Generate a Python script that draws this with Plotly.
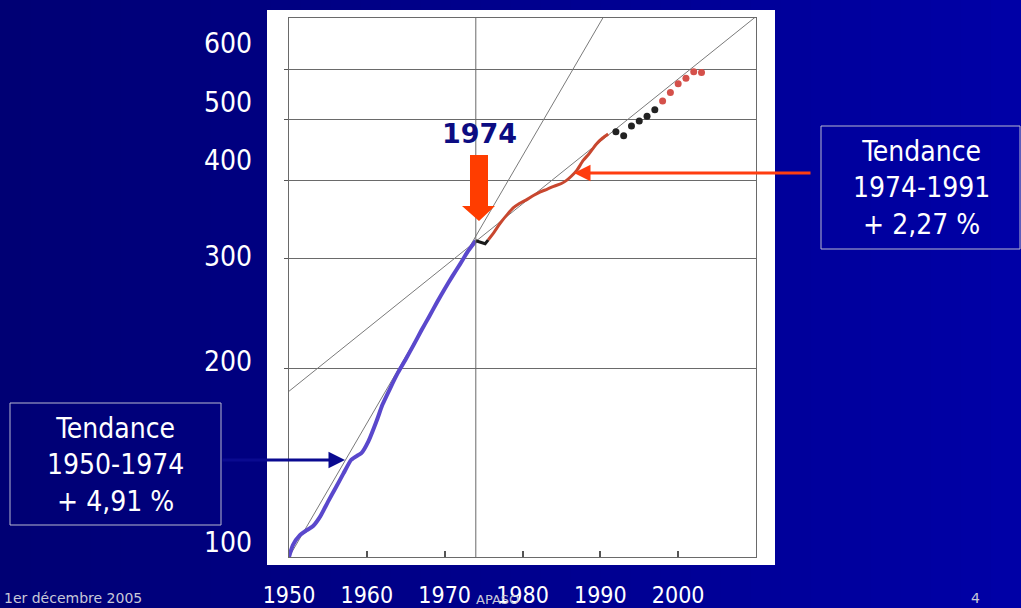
import plotly.graph_objects as go

# ---------------- data (index, 1950 = 100) ----------------
blue_years = [1950, 1950.5, 1951.4, 1952.3, 1953.1, 1954, 1955, 1956, 1957, 1958,
              1958.9, 1959.3, 1960.2, 1961.3, 1962, 1963, 1964, 1965, 1966, 1967,
              1968, 1969, 1970, 1971, 1972, 1973, 1974]
blue_vals = [100, 104.5, 108.4, 110.4, 112.1, 116, 122.5, 129, 136, 143,
             145.5, 146.5, 153, 165.5, 175, 186, 197, 207, 218, 230,
             242, 255, 268, 281, 294, 308, 320]

hook_years = [1974, 1975.2, 1975.6]
hook_vals = [320, 316.5, 321]

red_years = [1975.6, 1976.4, 1977.1, 1978, 1978.8, 1979.6, 1980.5, 1981.4, 1982.3,
             1983.2, 1984, 1985, 1985.7, 1986.3, 1987, 1987.8, 1988.5, 1989.5,
             1990.3, 1991]
red_vals = [321, 331, 341, 352, 361, 367, 372, 378, 383,
            387, 391, 395, 400, 406, 415, 430, 440, 457,
            467, 474]

black_dot_years = [1992, 1993, 1994, 1995, 1996, 1997]
black_dot_vals = [478, 471, 488, 497, 506, 518]
red_dot_years = [1998, 1999, 2000, 2001, 2002, 2003]
red_dot_vals = [535, 552, 570, 582, 596, 594]

trend_fast_years = [1950, 1990.4]   # tendance 1950-1974
trend_fast_vals = [100, 729]
trend_slow_years = [1950, 2010]     # tendance 1974-1991
trend_slow_vals = [184, 730]

x_ticks = [1950, 1960, 1970, 1980, 1990, 2000]
y_grid = [200, 300, 400, 500, 600]
y_labels = ["600", "500", "400", "300", "200", "100"]
marker_year = 1974
marker_label = "1974"
box_left_lines = ["Tendance", "1950-1974", "+ 4,91 %"]
box_right_lines = ["Tendance", "1974-1991", "+ 2,27 %"]
footer_left = "1er décembre 2005"
footer_mid = "APASO"
footer_right = "4"

# ---------------- geometry / style ----------------
W, H = 1021, 608
L, R, T, B = 289, 756, 18, 557
FONT = "DejaVu Sans Condensed, DejaVu Sans, sans-serif"


def px(x):
    return (x - L) / (R - L)


def py(y):
    return (B - y) / (B - T)


fig = go.Figure()

fig.add_trace(go.Scatter(x=trend_slow_years, y=trend_slow_vals, mode="lines",
                         line=dict(color="#7a7a7a", width=1), hoverinfo="skip"))
fig.add_trace(go.Scatter(x=trend_fast_years, y=trend_fast_vals, mode="lines",
                         line=dict(color="#7a7a7a", width=1), hoverinfo="skip"))
fig.add_trace(go.Scatter(x=blue_years, y=blue_vals, mode="lines",
                         line=dict(color="#5a48cc", width=4, shape="spline", smoothing=0.6)))
fig.add_trace(go.Scatter(x=hook_years, y=hook_vals, mode="lines",
                         line=dict(color="#1a1a1a", width=3)))
fig.add_trace(go.Scatter(x=red_years, y=red_vals, mode="lines",
                         line=dict(color="#c8472f", width=3, shape="spline", smoothing=0.6)))
fig.add_trace(go.Scatter(x=black_dot_years, y=black_dot_vals, mode="markers",
                         marker=dict(color="#222222", size=7)))
fig.add_trace(go.Scatter(x=red_dot_years, y=red_dot_vals, mode="markers",
                         marker=dict(color="#d4504a", size=7)))

shapes = []
# gradient slide background (vertical strips)
n = 34
for i in range(n):
    x0 = W * i / n
    x1 = W * (i + 1) / n + 1
    t = i / (n - 1)
    b = int(round(116 + t * (166 - 116)))
    shapes.append(dict(type="rect", xref="paper", yref="paper", layer="below",
                       x0=px(x0), x1=px(x1), y0=py(H + 2), y1=py(-2),
                       fillcolor=f"rgb(0,0,{b})", line=dict(width=0)))
# white card
shapes.append(dict(type="rect", xref="paper", yref="paper", layer="below",
                   x0=px(267), x1=px(775), y0=py(565), y1=py(10),
                   fillcolor="white", line=dict(width=0)))
# 1974 vertical line
shapes.append(dict(type="line", xref="x", yref="paper", x0=marker_year, x1=marker_year,
                   y0=0, y1=1, line=dict(color="#6a6a6a", width=1)))
# text boxes
shapes.append(dict(type="rect", xref="paper", yref="paper",
                   x0=px(10), x1=px(221), y0=py(525), y1=py(403),
                   line=dict(color="#b8b8d0", width=1)))
shapes.append(dict(type="rect", xref="paper", yref="paper",
                   x0=px(821), x1=px(1020), y0=py(249), y1=py(126),
                   line=dict(color="#b8b8d0", width=1)))
# big red arrow pointing at 1974
pts = [(470, 155), (488, 155), (488, 206), (495, 206), (479, 221), (462, 206), (470, 206)]
path = "M " + " L ".join(f"{px(a):.5f},{py(b):.5f}" for a, b in pts) + " Z"
shapes.append(dict(type="path", xref="paper", yref="paper", path=path,
                   fillcolor="#ff3d00", line=dict(width=0)))

annotations = []
# y labels
for txt, yc in zip(y_labels, [44, 102, 160, 256, 361, 542]):
    annotations.append(dict(xref="paper", yref="paper", x=px(254), y=py(yc),
                            xanchor="right", yanchor="middle", text=txt, showarrow=False,
                            font=dict(family=FONT, size=28, color="white")))
# 1974 label
annotations.append(dict(xref="paper", yref="paper", x=px(479), y=py(133),
                        xanchor="center", yanchor="middle", text=marker_label, showarrow=False,
                        font=dict(family="DejaVu Sans, sans-serif", size=27, color="#0c0c82",
                                  weight="bold")))
# box texts
annotations.append(dict(xref="paper", yref="paper", x=px(115), y=py(465),
                        xanchor="center", yanchor="middle", text="<br>".join(box_left_lines),
                        showarrow=False, align="center",
                        font=dict(family=FONT, size=28, color="white")))
annotations.append(dict(xref="paper", yref="paper", x=px(921), y=py(188),
                        xanchor="center", yanchor="middle", text="<br>".join(box_right_lines),
                        showarrow=False, align="center",
                        font=dict(family=FONT, size=28, color="white")))
# arrows
annotations.append(dict(xref="paper", yref="paper", x=px(345), y=py(460), ax=-(345 - 221), ay=0,
                        text="", showarrow=True, arrowhead=2, arrowsize=1.1, arrowwidth=3,
                        arrowcolor="#0a0a90", standoff=0, startstandoff=0))
annotations.append(dict(xref="paper", yref="paper", x=px(574), y=py(173), ax=812 - 574, ay=0,
                        text="", showarrow=True, arrowhead=2, arrowsize=1.1, arrowwidth=3,
                        arrowcolor="#ff3d10", standoff=0, startstandoff=0))
# footer
annotations.append(dict(xref="paper", yref="paper", x=px(2), y=py(598), xanchor="left",
                        yanchor="middle", text=footer_left, showarrow=False,
                        font=dict(family="DejaVu Sans, sans-serif", size=14, color="#c8c8d8")))
annotations.append(dict(xref="paper", yref="paper", x=px(497), y=py(599), xanchor="center",
                        yanchor="middle", text=footer_mid, showarrow=False,
                        font=dict(family="DejaVu Sans, sans-serif", size=13, color="#c8c8d8")))
annotations.append(dict(xref="paper", yref="paper", x=px(975), y=py(598), xanchor="center",
                        yanchor="middle", text=footer_right, showarrow=False,
                        font=dict(family="DejaVu Sans, sans-serif", size=14, color="#c8c8d8")))

fig.update_layout(
    width=W, height=H,
    margin=dict(l=L, r=W - R, t=T, b=H - B, pad=0, autoexpand=False),
    paper_bgcolor="#00007a",
    plot_bgcolor="rgba(0,0,0,0)",
    showlegend=False,
    shapes=shapes,
    annotations=annotations,
    xaxis=dict(range=[1950, 2010], showgrid=False, zeroline=False, automargin=False,
               showline=True, mirror=True, linecolor="#6a6a6a", linewidth=1,
               ticks="inside", ticklen=6, tickcolor="#555555", tickwidth=1.5,
               tickvals=x_ticks, ticklabelstandoff=17,
               tickfont=dict(family=FONT, size=23, color="white")),
    yaxis=dict(type="log", range=[2, 2.861], tickvals=y_grid, showticklabels=False,
               automargin=False,
               showgrid=True, gridcolor="#6a6a6a", gridwidth=1, zeroline=False,
               showline=True, mirror=True, linecolor="#6a6a6a", linewidth=1,
               ticks="outside", ticklen=4, tickcolor="#555555"),
)

fig.write_html(
    "out.html",
    config={"displayModeBar": False},
    post_script=("document.body.style.margin='0';"
                 "document.body.style.background='#00007a';"
                 "document.documentElement.style.overflow='hidden';"),
)
